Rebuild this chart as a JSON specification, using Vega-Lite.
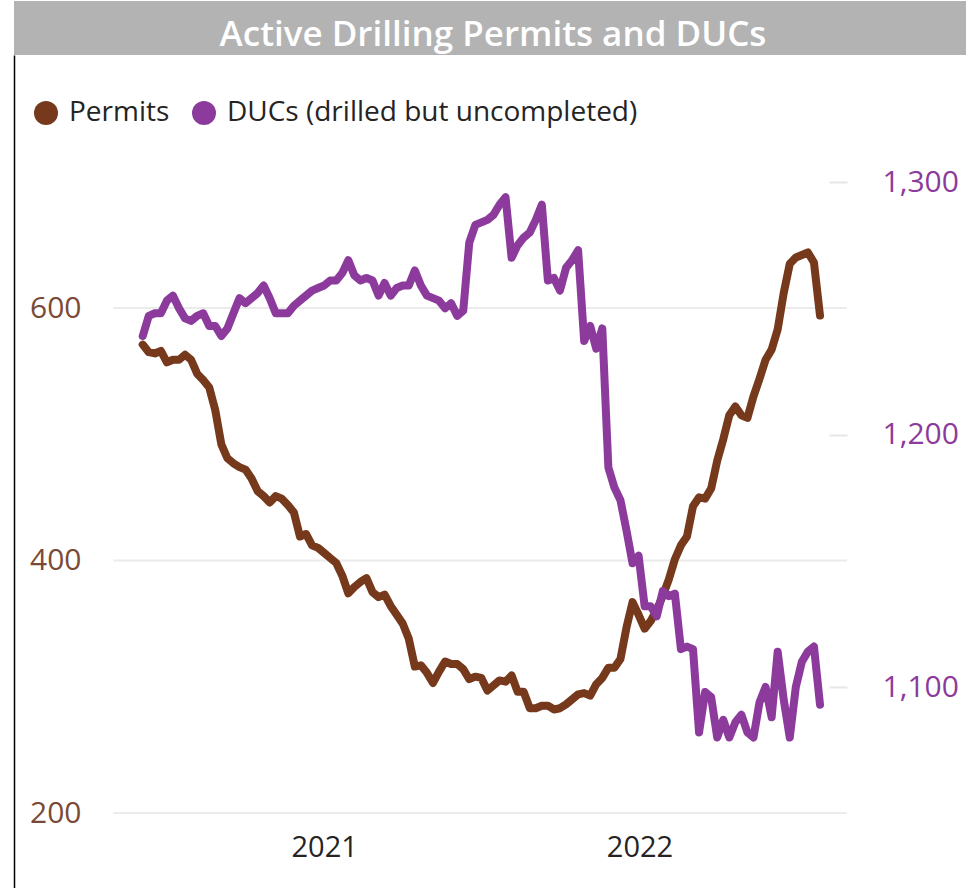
{
  "$schema": "https://vega.github.io/schema/vega-lite/v6.json",
  "background": "white",
  "padding": {"left": 14, "top": 1, "right": 0, "bottom": 0},
  "autosize": {"type": "pad"},
  "spacing": 0,
  "config": {
    "view": {"stroke": null},
    "font": "Open Sans",
    "axis": {"labelFont": "Open Sans"},
    "legend": {"labelFont": "Open Sans"}
  },
  "datasets": {
    "series": [
      {"date": "2020-06-05", "permits": 571, "ducs": 1239},
      {"date": "2020-06-12", "permits": 565, "ducs": 1247},
      {"date": "2020-06-19", "permits": 564, "ducs": 1248},
      {"date": "2020-06-26", "permits": 566, "ducs": 1248},
      {"date": "2020-07-03", "permits": 557, "ducs": 1253},
      {"date": "2020-07-10", "permits": 559, "ducs": 1255},
      {"date": "2020-07-17", "permits": 559, "ducs": 1250},
      {"date": "2020-07-24", "permits": 563, "ducs": 1246},
      {"date": "2020-07-31", "permits": 559, "ducs": 1245},
      {"date": "2020-08-07", "permits": 548, "ducs": 1247},
      {"date": "2020-08-14", "permits": 543, "ducs": 1248},
      {"date": "2020-08-21", "permits": 537, "ducs": 1243},
      {"date": "2020-08-28", "permits": 519, "ducs": 1243},
      {"date": "2020-09-04", "permits": 492, "ducs": 1239},
      {"date": "2020-09-11", "permits": 481, "ducs": 1242},
      {"date": "2020-09-18", "permits": 477, "ducs": 1248},
      {"date": "2020-09-25", "permits": 474, "ducs": 1254},
      {"date": "2020-10-02", "permits": 472, "ducs": 1252},
      {"date": "2020-10-09", "permits": 465, "ducs": 1254},
      {"date": "2020-10-16", "permits": 455, "ducs": 1256},
      {"date": "2020-10-23", "permits": 451, "ducs": 1259},
      {"date": "2020-10-30", "permits": 446, "ducs": 1254},
      {"date": "2020-11-06", "permits": 451, "ducs": 1248},
      {"date": "2020-11-13", "permits": 449, "ducs": 1248},
      {"date": "2020-11-20", "permits": 444, "ducs": 1248},
      {"date": "2020-11-27", "permits": 438, "ducs": 1251},
      {"date": "2020-12-04", "permits": 419, "ducs": 1253},
      {"date": "2020-12-11", "permits": 421, "ducs": 1255},
      {"date": "2020-12-18", "permits": 412, "ducs": 1257},
      {"date": "2020-12-25", "permits": 410, "ducs": 1258},
      {"date": "2021-01-01", "permits": 406, "ducs": 1259},
      {"date": "2021-01-08", "permits": 402, "ducs": 1261},
      {"date": "2021-01-15", "permits": 398, "ducs": 1261},
      {"date": "2021-01-22", "permits": 388, "ducs": 1264},
      {"date": "2021-01-29", "permits": 374, "ducs": 1269},
      {"date": "2021-02-05", "permits": 379, "ducs": 1263},
      {"date": "2021-02-12", "permits": 383, "ducs": 1261},
      {"date": "2021-02-19", "permits": 386, "ducs": 1262},
      {"date": "2021-02-26", "permits": 375, "ducs": 1261},
      {"date": "2021-03-05", "permits": 371, "ducs": 1255},
      {"date": "2021-03-12", "permits": 373, "ducs": 1260},
      {"date": "2021-03-19", "permits": 364, "ducs": 1255},
      {"date": "2021-03-26", "permits": 357, "ducs": 1258},
      {"date": "2021-04-02", "permits": 350, "ducs": 1259},
      {"date": "2021-04-09", "permits": 338, "ducs": 1259},
      {"date": "2021-04-16", "permits": 316, "ducs": 1265},
      {"date": "2021-04-23", "permits": 317, "ducs": 1259},
      {"date": "2021-04-30", "permits": 311, "ducs": 1255},
      {"date": "2021-05-07", "permits": 303, "ducs": 1254},
      {"date": "2021-05-14", "permits": 312, "ducs": 1253},
      {"date": "2021-05-21", "permits": 320, "ducs": 1250},
      {"date": "2021-05-28", "permits": 318, "ducs": 1252},
      {"date": "2021-06-04", "permits": 318, "ducs": 1247},
      {"date": "2021-06-11", "permits": 314, "ducs": 1249},
      {"date": "2021-06-18", "permits": 306, "ducs": 1276},
      {"date": "2021-06-25", "permits": 308, "ducs": 1283},
      {"date": "2021-07-02", "permits": 307, "ducs": 1284},
      {"date": "2021-07-09", "permits": 297, "ducs": 1285},
      {"date": "2021-07-16", "permits": 301, "ducs": 1287},
      {"date": "2021-07-23", "permits": 305, "ducs": 1291},
      {"date": "2021-07-30", "permits": 304, "ducs": 1294},
      {"date": "2021-08-06", "permits": 309, "ducs": 1270},
      {"date": "2021-08-13", "permits": 296, "ducs": 1275},
      {"date": "2021-08-20", "permits": 296, "ducs": 1278},
      {"date": "2021-08-27", "permits": 283, "ducs": 1280},
      {"date": "2021-09-03", "permits": 283, "ducs": 1285},
      {"date": "2021-09-10", "permits": 285, "ducs": 1291},
      {"date": "2021-09-17", "permits": 285, "ducs": 1261},
      {"date": "2021-09-24", "permits": 282, "ducs": 1262},
      {"date": "2021-10-01", "permits": 283, "ducs": 1257},
      {"date": "2021-10-08", "permits": 286, "ducs": 1266},
      {"date": "2021-10-15", "permits": 290, "ducs": 1269},
      {"date": "2021-10-22", "permits": 294, "ducs": 1273},
      {"date": "2021-10-29", "permits": 295, "ducs": 1237},
      {"date": "2021-11-05", "permits": 293, "ducs": 1243},
      {"date": "2021-11-12", "permits": 302, "ducs": 1234},
      {"date": "2021-11-19", "permits": 307, "ducs": 1242},
      {"date": "2021-11-26", "permits": 315, "ducs": 1187},
      {"date": "2021-12-03", "permits": 315, "ducs": 1179},
      {"date": "2021-12-10", "permits": 322, "ducs": 1174},
      {"date": "2021-12-17", "permits": 347, "ducs": 1162},
      {"date": "2021-12-24", "permits": 367, "ducs": 1149},
      {"date": "2021-12-31", "permits": 357, "ducs": 1152},
      {"date": "2022-01-07", "permits": 346, "ducs": 1132},
      {"date": "2022-01-14", "permits": 352, "ducs": 1132},
      {"date": "2022-01-21", "permits": 361, "ducs": 1128},
      {"date": "2022-01-28", "permits": 372, "ducs": 1138},
      {"date": "2022-02-04", "permits": 385, "ducs": 1136},
      {"date": "2022-02-11", "permits": 401, "ducs": 1137},
      {"date": "2022-02-18", "permits": 412, "ducs": 1115},
      {"date": "2022-02-25", "permits": 419, "ducs": 1116},
      {"date": "2022-03-04", "permits": 443, "ducs": 1115},
      {"date": "2022-03-11", "permits": 450, "ducs": 1082},
      {"date": "2022-03-18", "permits": 449, "ducs": 1098},
      {"date": "2022-03-25", "permits": 457, "ducs": 1096},
      {"date": "2022-04-01", "permits": 479, "ducs": 1080},
      {"date": "2022-04-08", "permits": 496, "ducs": 1087},
      {"date": "2022-04-15", "permits": 515, "ducs": 1080},
      {"date": "2022-04-22", "permits": 522, "ducs": 1086},
      {"date": "2022-04-29", "permits": 515, "ducs": 1089},
      {"date": "2022-05-06", "permits": 513, "ducs": 1082},
      {"date": "2022-05-13", "permits": 530, "ducs": 1080},
      {"date": "2022-05-20", "permits": 544, "ducs": 1094},
      {"date": "2022-05-27", "permits": 559, "ducs": 1100},
      {"date": "2022-06-03", "permits": 567, "ducs": 1088},
      {"date": "2022-06-10", "permits": 583, "ducs": 1114},
      {"date": "2022-06-17", "permits": 612, "ducs": 1095},
      {"date": "2022-06-24", "permits": 635, "ducs": 1080},
      {"date": "2022-07-01", "permits": 640, "ducs": 1100},
      {"date": "2022-07-08", "permits": 642, "ducs": 1110},
      {"date": "2022-07-15", "permits": 644, "ducs": 1114},
      {"date": "2022-07-22", "permits": 636, "ducs": 1116},
      {"date": "2022-07-29", "permits": 594, "ducs": 1093}
    ],
    "gridlines": [{"level": 200}, {"level": 400}, {"level": 600}],
    "heading": [{"title": "Active Drilling Permits and DUCs"}]
  },
  "vconcat": [
    {
      "width": 952,
      "height": 54,
      "view": {"fill": "#b3b3b3", "stroke": null},
      "data": {"name": "heading"},
      "mark": {"type": "text", "font": "Open Sans", "fontSize": 35, "fontWeight": 600, "color": "#ffffff", "align": "center", "baseline": "alphabetic", "dx": 3, "dy": 18},
      "encoding": {"text": {"field": "title", "type": "nominal"}}
    },
    {
      "width": 952,
      "height": 833,
      "view": {"stroke": null},
      "data": {"name": "series"},
      "layer": [
        {
          "layer": [
            {
              "data": {"name": "gridlines"},
              "mark": {"type": "rule", "color": "#ebebeb", "strokeWidth": 2},
              "encoding": {
                "x": {"datum": {"year": 2020, "month": 5, "date": 2, "utc": true}, "type": "temporal",
                      "scale": {"type": "utc", "domain": [{"year": 2020, "month": 1, "date": 8, "utc": true}, {"year": 2023, "month": 1, "date": 14, "utc": true}], "nice": false}},
                "x2": {"datum": {"year": 2022, "month": 8, "date": 29, "utc": true}},
                "y": {"field": "level", "type": "quantitative", "scale": {"domain": [140.6, 800.4], "nice": false, "zero": false},
                      "axis": {"orient": "left", "offset": 0, "values": [200, 400, 600], "format": ".0f", "grid": false, "domain": true, "domainColor": "#000000", "domainWidth": 1.5, "ticks": false, "labelPadding": -67, "labelAlign": "right", "labelBaseline": "middle", "labelFontSize": 30, "labelColor": "#7b4a36", "title": null}}
              }
            },
            {
              "mark": {"type": "line", "strokeWidth": 8, "strokeCap": "round", "strokeJoin": "round"},
              "encoding": {
                "x": {"field": "date", "type": "temporal",
                      "scale": {"type": "utc", "domain": [{"year": 2020, "month": 1, "date": 8, "utc": true}, {"year": 2023, "month": 1, "date": 14, "utc": true}], "nice": false},
                      "axis": {"orient": "bottom", "offset": -75, "values": [{"year": 2021, "month": 1, "date": 1, "utc": true}, {"year": 2022, "month": 1, "date": 1, "utc": true}], "format": "%Y", "grid": false, "domain": false, "ticks": false, "labelPadding": 20, "labelFontSize": 29, "labelColor": "#252423", "title": null}},
                "y": {"field": "permits", "type": "quantitative",
                      "scale": {"domain": [140.6, 800.4], "nice": false, "zero": false},
                      "axis": {"orient": "left", "offset": 0, "values": [200, 400, 600], "format": ".0f", "grid": false, "domain": true, "domainColor": "#000000", "domainWidth": 1.5, "ticks": false, "labelPadding": -67, "labelAlign": "right", "labelBaseline": "middle", "labelFontSize": 30, "labelColor": "#7b4a36", "title": null}},
                "color": {"datum": "Permits", "type": "nominal",
                          "scale": {"domain": ["Permits", "DUCs (drilled but uncompleted)"], "range": ["#76391b", "#8c3b9c"]},
                          "legend": {"orient": "none", "legendX": 18, "legendY": 98, "direction": "horizontal", "title": null, "symbolType": "circle", "symbolSize": 576, "symbolStrokeWidth": 0, "labelFontSize": 28, "labelLimit": 800, "labelColor": "#252423", "labelOffset": 9, "columnPadding": 20,
                                     "encode": {"symbols": {"update": {"fill": {"scale": "color", "field": "value"}, "stroke": {"value": "transparent"}, "opacity": {"value": 1}}}}}}
              }
            }
          ]
        },
        {
          "mark": {"type": "line", "strokeWidth": 8, "strokeCap": "round", "strokeJoin": "round"},
          "encoding": {
            "x": {"field": "date", "type": "temporal",
                  "scale": {"type": "utc", "domain": [{"year": 2020, "month": 1, "date": 8, "utc": true}, {"year": 2023, "month": 1, "date": 14, "utc": true}], "nice": false}},
            "y": {"field": "ducs", "type": "quantitative",
                  "scale": {"domain": [1020.4, 1350.3], "nice": false, "zero": false},
                  "axis": {"orient": "right", "offset": -119, "values": [1100, 1200, 1300], "format": ",.0f", "grid": false, "domain": false, "ticks": true, "tickSize": -18, "tickColor": "#e6e6e6", "tickWidth": 2, "labelPadding": 53, "labelAlign": "left", "labelBaseline": "middle", "labelFontSize": 30, "labelColor": "#8c3b9c", "title": null}},
            "color": {"datum": "DUCs (drilled but uncompleted)", "type": "nominal"}
          }
        }
      ],
      "resolve": {"scale": {"y": "independent"}}
    }
  ]
}
